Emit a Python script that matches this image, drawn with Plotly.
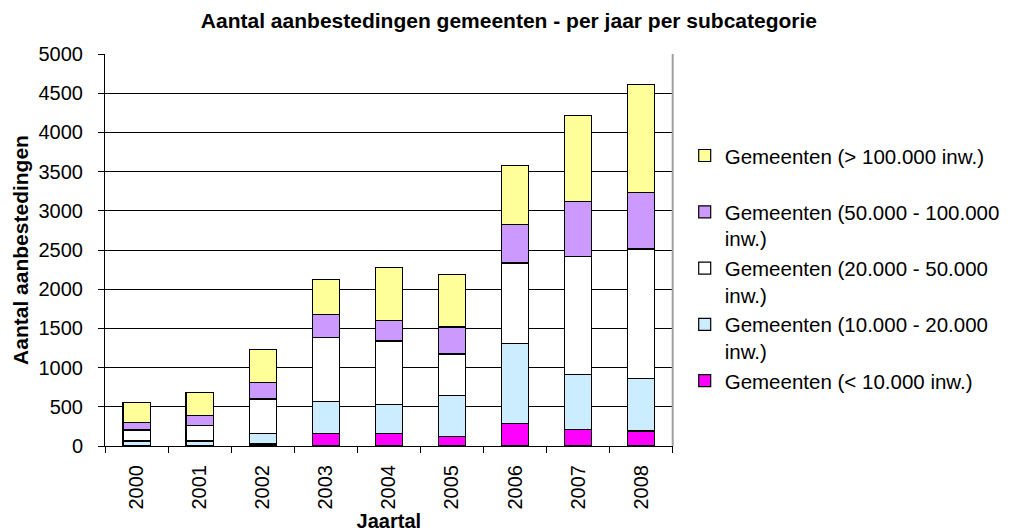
import plotly.graph_objects as go

years = ["2000", "2001", "2002", "2003", "2004", "2005", "2006", "2007", "2008"]

# stacked from bottom to top
klein = [5, 5, 25, 157, 157, 123, 289, 208, 191]          # < 10.000 inw.
klein_mid = [60, 60, 137, 408, 374, 523, 1016, 702, 672]  # 10.000 - 20.000
midden = [140, 195, 437, 821, 808, 527, 1028, 1504, 1649]  # 20.000 - 50.000
groot_mid = [90, 128, 213, 293, 259, 344, 494, 706, 722]  # 50.000 - 100.000
groot = [260, 297, 423, 446, 675, 672, 752, 1100, 1381]   # > 100.000

series = [
    ("Gemeenten (< 10.000 inw.)", klein, "#FF00FF"),
    ("Gemeenten (10.000 - 20.000<br>inw.)", klein_mid, "#CCECFF"),
    ("Gemeenten (20.000 - 50.000<br>inw.)", midden, "#FFFFFF"),
    ("Gemeenten (50.000 - 100.000<br>inw.)", groot_mid, "#CC99FF"),
    ("Gemeenten (> 100.000 inw.)<br> ", groot, "#FFFF99"),
]

FONT = "Liberation Sans, Arial, sans-serif"

fig = go.Figure()
for name, vals, color in series:
    fig.add_trace(go.Bar(
        x=years, y=vals, name=name,
        marker=dict(color=color, line=dict(color="black", width=1.2)),
    ))

# the page body has an 8px margin, so margins are shifted by 8
fig.update_layout(
    barmode="stack", bargap=0.57,
    width=1010, height=532,
    margin=dict(l=92, r=343, t=46, b=94),
    paper_bgcolor="white", plot_bgcolor="white",
    font=dict(family=FONT, size=20, color="black"),
    title=dict(text="<b>Aantal aanbestedingen gemeenten - per jaar per subcategorie</b>",
               x=0.496, xref="container", xanchor="center",
               y=0.977, yref="container", yanchor="middle",
               font=dict(size=21)),
    # container refs so the legend does not push the right margin
    legend=dict(x=0.670, xref="container", y=0.76, yref="container",
                xanchor="left", yanchor="top",
                traceorder="reversed", valign="top",
                font=dict(size=20.5), itemwidth=30, tracegroupgap=0),
    showlegend=True,
)

fig.update_yaxes(range=[0, 5000], dtick=500, showgrid=True, gridcolor="black", gridwidth=1,
                 showline=True, linecolor="black", linewidth=1,
                 ticks="outside", ticklen=6, tickcolor="black", ticklabelstandoff=11,
                 title=dict(text="<b>Aantal aanbestedingen</b>", font=dict(size=21), standoff=4))
fig.update_xaxes(showline=True, linecolor="black", linewidth=1,
                 ticks="outside", ticklen=6, tickcolor="black", tickson="boundaries",
                 tickangle=-90, ticklabelstandoff=10,
                 title=dict(text="<b>Jaartal</b>", font=dict(size=20), standoff=2))

# grey right border of the plot area
fig.add_shape(type="line", xref="x domain", yref="y domain", x0=1, x1=1, y0=0, y1=1,
              line=dict(color="#A0A0A0", width=2))

fig.write_html("out.html")
